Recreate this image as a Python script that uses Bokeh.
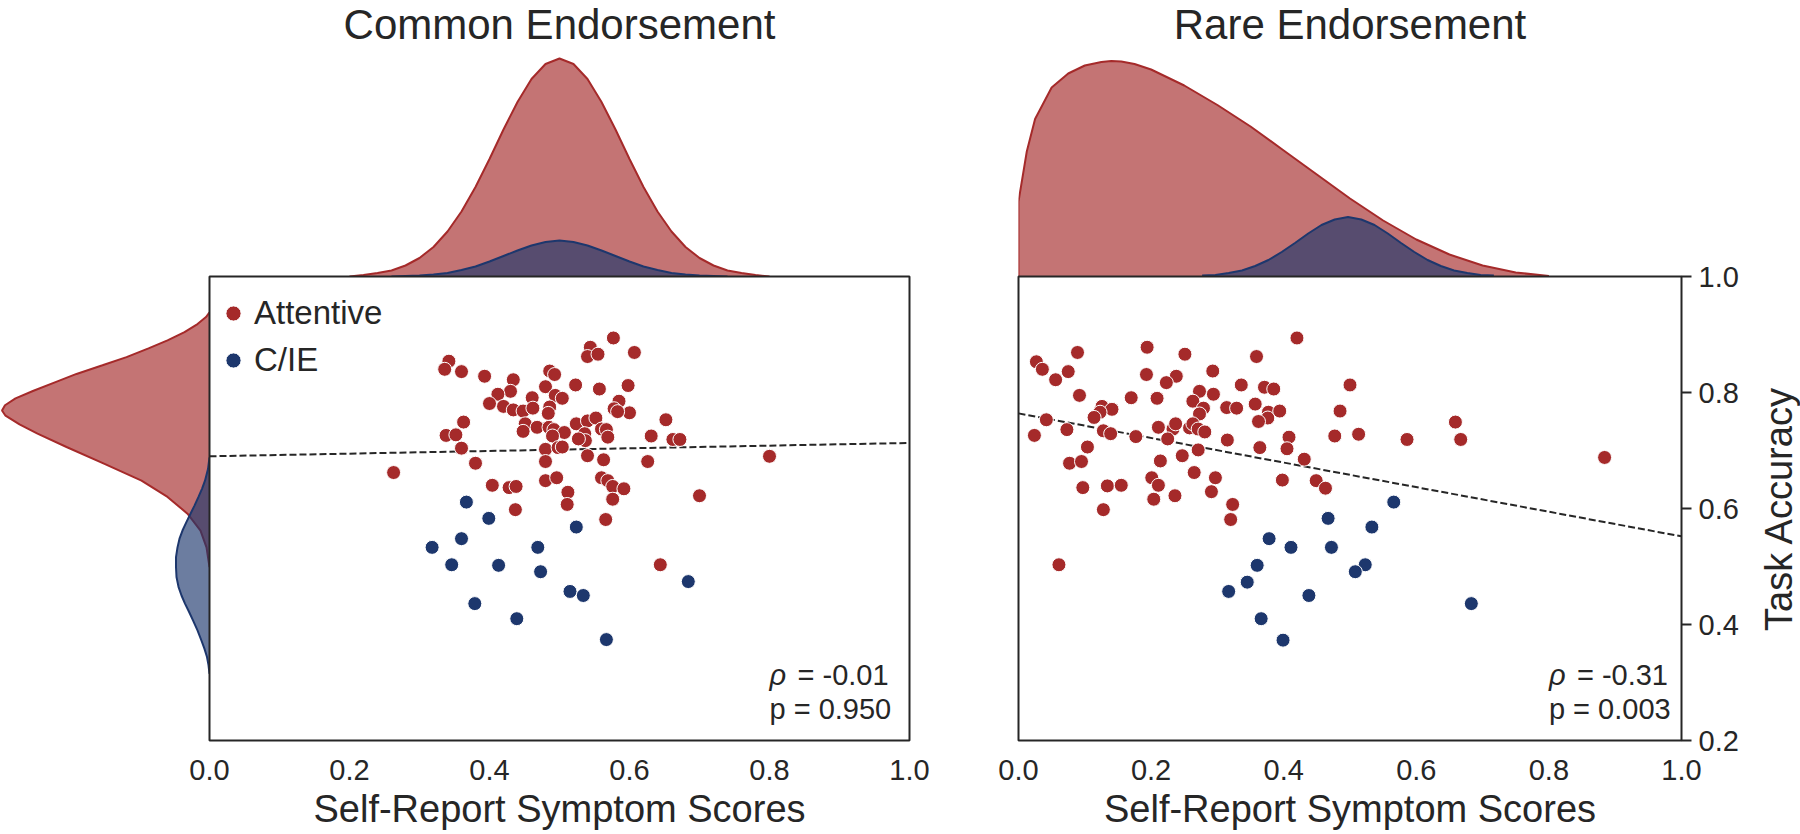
import math
from bokeh.plotting import figure
from bokeh.layouts import row, column
from bokeh.models import Range1d, FixedTicker, PrintfTickFormatter, Label, Legend, LegendItem
from bokeh.embed import file_html
from bokeh.resources import INLINE

FONT = "Liberation Sans"
INK = "#262626"
RED = "#A52A2A"
BLUE = "#1D376D"
FILL_ALPHA = 0.65

# ---------------- data ----------------
common_att_score = [0.577, 0.544, 0.540, 0.555, 0.607, 0.342, 0.336, 0.360, 0.393, 0.434,
                    0.486, 0.493, 0.480, 0.523, 0.557, 0.598, 0.430, 0.412, 0.461, 0.494,
                    0.504, 0.585, 0.400, 0.420, 0.434, 0.448, 0.462, 0.486, 0.484, 0.578,
                    0.600, 0.583, 0.363, 0.451, 0.448, 0.468, 0.485, 0.492, 0.507, 0.490,
                    0.524, 0.540, 0.552, 0.560, 0.567, 0.569, 0.536, 0.537, 0.527, 0.652,
                    0.631, 0.662, 0.672, 0.338, 0.352, 0.360, 0.480, 0.498, 0.504, 0.540,
                    0.563, 0.480, 0.626, 0.380, 0.263, 0.700, 0.404, 0.428, 0.438, 0.480,
                    0.496, 0.560, 0.569, 0.576, 0.592, 0.512, 0.511, 0.576, 0.437, 0.566,
                    0.800, 0.644]
common_att_acc = [0.894, 0.878, 0.862, 0.866, 0.869, 0.854, 0.840, 0.836, 0.828, 0.822,
                  0.837, 0.831, 0.810, 0.813, 0.806, 0.812, 0.802, 0.797, 0.791, 0.795,
                  0.790, 0.785, 0.781, 0.776, 0.770, 0.768, 0.773, 0.775, 0.764, 0.772,
                  0.765, 0.767, 0.749, 0.746, 0.733, 0.740, 0.740, 0.736, 0.731, 0.725,
                  0.746, 0.751, 0.756, 0.737, 0.736, 0.723, 0.729, 0.717, 0.720, 0.753,
                  0.725, 0.719, 0.719, 0.726, 0.727, 0.704, 0.702, 0.705, 0.706, 0.691,
                  0.684, 0.681, 0.681, 0.678, 0.662, 0.622, 0.640, 0.636, 0.638, 0.648,
                  0.653, 0.653, 0.648, 0.638, 0.634, 0.628, 0.607, 0.616, 0.598, 0.581,
                  0.690, 0.503]
common_cie_score = [0.367, 0.399, 0.524, 0.360, 0.318, 0.469, 0.346, 0.413, 0.473, 0.684,
                    0.515, 0.534, 0.379, 0.439, 0.567]
common_cie_acc = [0.611, 0.583, 0.568, 0.548, 0.533, 0.533, 0.503, 0.502, 0.491, 0.474,
                  0.457, 0.450, 0.436, 0.410, 0.374]

rare_att_score = [0.420, 0.089, 0.194, 0.251, 0.359, 0.027, 0.036, 0.075, 0.056, 0.193,
                  0.238, 0.223, 0.293, 0.336, 0.371, 0.385, 0.500, 0.092, 0.170, 0.209,
                  0.273, 0.294, 0.263, 0.126, 0.141, 0.123, 0.114, 0.279, 0.273, 0.314,
                  0.329, 0.357, 0.377, 0.376, 0.394, 0.362, 0.485, 0.042, 0.024, 0.073,
                  0.128, 0.139, 0.177, 0.211, 0.233, 0.237, 0.225, 0.258, 0.263, 0.271,
                  0.281, 0.271, 0.315, 0.408, 0.477, 0.513, 0.586, 0.659, 0.667, 0.104,
                  0.364, 0.405, 0.247, 0.431, 0.077, 0.095, 0.214, 0.265, 0.201, 0.211,
                  0.297, 0.398, 0.449, 0.463, 0.097, 0.134, 0.155, 0.204, 0.236, 0.291,
                  0.128, 0.323, 0.320, 0.884, 0.061]
rare_att_acc = [0.894, 0.869, 0.878, 0.866, 0.862, 0.853, 0.840, 0.836, 0.822, 0.831,
                0.828, 0.817, 0.837, 0.813, 0.809, 0.806, 0.813, 0.795, 0.791, 0.790,
                0.802, 0.797, 0.785, 0.776, 0.771, 0.766, 0.757, 0.773, 0.763, 0.774,
                0.773, 0.780, 0.766, 0.756, 0.768, 0.750, 0.768, 0.753, 0.726, 0.736,
                0.734, 0.729, 0.724, 0.740, 0.737, 0.746, 0.720, 0.739, 0.746, 0.737,
                0.732, 0.701, 0.718, 0.723, 0.725, 0.728, 0.719, 0.749, 0.719, 0.706,
                0.705, 0.703, 0.691, 0.685, 0.678, 0.681, 0.682, 0.662, 0.653, 0.640,
                0.653, 0.649, 0.648, 0.635, 0.636, 0.639, 0.640, 0.616, 0.622, 0.629,
                0.598, 0.607, 0.581, 0.688, 0.503]
rare_cie_score = [0.566, 0.467, 0.533, 0.378, 0.411, 0.472, 0.523, 0.360, 0.508, 0.683,
                  0.345, 0.317, 0.438, 0.366, 0.399]
rare_cie_acc = [0.611, 0.583, 0.568, 0.548, 0.533, 0.533, 0.503, 0.502, 0.491, 0.436,
                0.473, 0.457, 0.450, 0.410, 0.373]

fit_x = [0.0, 1.0]
common_fit = [0.690, 0.713]
rare_fit = [0.764, 0.552]

common_rho, common_p = "-0.01", "0.950"
rare_rho, rare_p = "-0.31", "0.003"

# marginal densities (as drawn)
common_att_grid = [0.20, 0.22, 0.24, 0.26, 0.28, 0.30, 0.32, 0.34, 0.36, 0.38, 0.40,
                   0.42, 0.44, 0.46, 0.48, 0.50, 0.52, 0.54, 0.56, 0.58, 0.60, 0.62,
                   0.64, 0.66, 0.68, 0.70, 0.72, 0.74, 0.76, 0.78, 0.80]
common_att_dens = [0.00, 0.03, 0.07, 0.12, 0.22, 0.37, 0.59, 0.90, 1.30, 1.79, 2.35,
                   2.94, 3.49, 3.95, 4.25, 4.36, 4.25, 3.95, 3.49, 2.94, 2.35, 1.79,
                   1.30, 0.90, 0.59, 0.37, 0.22, 0.12, 0.07, 0.03, 0.00]
common_cie_grid = [0.26, 0.28, 0.30, 0.32, 0.34, 0.36, 0.38, 0.40, 0.42, 0.44, 0.46,
                   0.48, 0.50, 0.52, 0.54, 0.56, 0.58, 0.60, 0.62, 0.64, 0.66, 0.68,
                   0.70, 0.72, 0.74]
common_cie_dens = [0.00, 0.01, 0.02, 0.04, 0.07, 0.13, 0.20, 0.30, 0.41, 0.52, 0.62,
                   0.69, 0.72, 0.69, 0.62, 0.52, 0.41, 0.30, 0.20, 0.13, 0.07, 0.04,
                   0.02, 0.01, 0.00]
rare_att_grid = [0.0, 0.0, 0.0125, 0.025, 0.05, 0.075, 0.10, 0.125, 0.14, 0.155, 0.175,
                 0.20, 0.25, 0.30, 0.35, 0.40, 0.45, 0.50, 0.55, 0.60, 0.65, 0.70,
                 0.75, 0.80]
rare_att_dens = [0.0, 1.50, 2.50, 3.15, 3.78, 4.06, 4.22, 4.29, 4.31, 4.30, 4.25,
                 4.14, 3.82, 3.43, 3.00, 2.52, 2.04, 1.56, 1.12, 0.74, 0.44, 0.22,
                 0.08, 0.01]
rare_cie_grid = [0.277, 0.297, 0.317, 0.337, 0.357, 0.377, 0.397, 0.417, 0.437, 0.457,
                 0.477, 0.497, 0.517, 0.537, 0.557, 0.577, 0.597, 0.617, 0.637, 0.657,
                 0.677, 0.697, 0.717]
rare_cie_dens = [0.02, 0.03, 0.07, 0.12, 0.21, 0.33, 0.49, 0.67, 0.86, 1.03, 1.14,
                 1.19, 1.14, 1.03, 0.86, 0.67, 0.49, 0.33, 0.21, 0.12, 0.07, 0.03,
                 0.02]

acc_att_grid = [0.499, 0.533, 0.562, 0.591, 0.620, 0.648, 0.677, 0.706, 0.729, 0.745,
                0.760, 0.769, 0.778, 0.790, 0.803, 0.818, 0.832, 0.847, 0.861, 0.876,
                0.890, 0.904, 0.918, 0.930, 0.938]
acc_att_dens = [0.00, 0.06, 0.18, 0.44, 0.84, 1.36, 2.10, 2.86, 3.44, 3.80,
                4.08, 4.15, 4.09, 3.88, 3.52, 3.08, 2.66, 2.14, 1.66, 1.22,
                0.84, 0.50, 0.24, 0.07, 0.00]
acc_cie_grid = [0.315, 0.330, 0.344, 0.358, 0.372, 0.390, 0.407, 0.422, 0.436, 0.450,
                0.465, 0.482, 0.499, 0.516, 0.533, 0.548, 0.562, 0.577, 0.591, 0.605,
                0.620, 0.634, 0.648, 0.668, 0.688]
acc_cie_dens = [0.00, 0.02, 0.05, 0.10, 0.16, 0.24, 0.33, 0.41, 0.49, 0.56,
                0.62, 0.66, 0.67, 0.67, 0.64, 0.60, 0.54, 0.46, 0.38, 0.30,
                0.22, 0.15, 0.09, 0.03, 0.00]

TICKS = [0.0, 0.2, 0.4, 0.6, 0.8, 1.0]
YTICKS = [0.2, 0.4, 0.6, 0.8, 1.0]

# ---------------- geometry (page pixels) ----------------
SIDE_W = 209
FW_L, FW_R = 700, 663
GAP_L, GAP_R = 40, 69
AX_R = 77        # ticks + tick labels of the accuracy axis
YLAB_W = 42      # strip holding the accuracy axis title
TOP_H = 276
FH = 464
B_TOP = 20
B_BOT = 94
OVL = 30
DENS_PX = 50.0


def clean(p):
    p.outline_line_color = None
    p.background_fill_alpha = 0
    p.border_fill_alpha = 0
    p.xgrid.visible = False
    p.ygrid.visible = False


def top_marginal(title, fw, left, right, curves):
    p = figure(frame_width=fw, frame_height=TOP_H, min_border_left=left, min_border_right=right,
               min_border_top=0, min_border_bottom=0, x_range=Range1d(0, 1),
               y_range=Range1d(0, TOP_H / DENS_PX), x_axis_location=None, y_axis_location=None,
               toolbar_location=None, output_backend="svg")
    clean(p)
    for gx, gd, col in curves:
        p.varea(x=gx, y1=0, y2=gd, fill_color=col, fill_alpha=FILL_ALPHA)
        p.line(gx, gd, line_color=col, line_width=2)
    p.add_layout(Label(x=0.5, y=TOP_H - 24, x_units="data", y_units="screen", text=title,
                       text_align="center", text_baseline="middle", text_font=FONT,
                       text_font_size="42px", text_color=INK))
    return p


tl = top_marginal("Common Endorsement", FW_L, SIDE_W, GAP_L,
                  [(common_att_grid, common_att_dens, RED), (common_cie_grid, common_cie_dens, BLUE)])
tr = top_marginal("Rare Endorsement", FW_R, GAP_R, AX_R + YLAB_W,
                  [(rare_att_grid, rare_att_dens, RED), (rare_cie_grid, rare_cie_dens, BLUE)])

# side marginal (task accuracy)
side = figure(frame_width=SIDE_W, frame_height=FH, min_border_left=0, min_border_right=0,
              min_border_top=B_TOP, min_border_bottom=B_BOT, x_range=Range1d(SIDE_W / DENS_PX, 0),
              y_range=Range1d(0.2, 1.0), x_axis_location=None, y_axis_location=None,
              toolbar_location=None, output_backend="svg")
clean(side)
for gy, gd, col in [(acc_att_grid, acc_att_dens, RED), (acc_cie_grid, acc_cie_dens, BLUE)]:
    side.harea(y=gy, x1=0, x2=gd, fill_color=col, fill_alpha=FILL_ALPHA)
    side.line(gd, gy, line_color=col, line_width=2)


def scatter_panel(fw, left, right, ax_right, att_x, att_y, cie_x, cie_y, fit, rho, pval, legend):
    p = figure(frame_width=fw, frame_height=FH, min_border_left=left, min_border_right=right,
               min_border_top=B_TOP, min_border_bottom=B_BOT, x_range=Range1d(0, 1),
               y_range=Range1d(0.2, 1.0), x_axis_location="below",
               y_axis_location="right" if ax_right else None,
               toolbar_location=None, output_backend="svg")
    p.background_fill_alpha = 0
    p.border_fill_alpha = 0
    p.xgrid.visible = False
    p.ygrid.visible = False
    p.outline_line_color = INK
    p.outline_line_width = 2
    p.outline_line_alpha = 1

    xa = p.xaxis[0]
    xa.ticker = FixedTicker(ticks=TICKS)
    xa.formatter = PrintfTickFormatter(format="%.1f")
    xa.axis_line_color = None
    xa.major_tick_line_color = None
    xa.minor_tick_line_color = None
    xa.major_label_text_font = FONT
    xa.major_label_text_font_size = "29px"
    xa.major_label_text_color = INK
    xa.major_label_standoff = 13
    xa.axis_label = "Self-Report Symptom Scores"
    xa.axis_label_text_font = FONT
    xa.axis_label_text_font_size = "38px"
    xa.axis_label_text_font_style = "normal"
    xa.axis_label_text_color = INK
    xa.axis_label_standoff = 5

    if ax_right:
        ya = p.yaxis[0]
        ya.ticker = FixedTicker(ticks=YTICKS)
        ya.formatter = PrintfTickFormatter(format="%.1f")
        ya.axis_line_color = None
        ya.major_tick_in = 0
        ya.major_tick_out = 10
        ya.major_tick_line_width = 2
        ya.major_tick_line_color = INK
        ya.minor_tick_line_color = None
        ya.major_label_text_font = FONT
        ya.major_label_text_font_size = "29px"
        ya.major_label_text_color = INK
        ya.major_label_standoff = 7

    p.line(fit_x, fit, line_color=INK, line_width=2, line_dash="7 3")
    ra = p.scatter(att_x, att_y, size=14, fill_color=RED, line_color="white", line_width=1)
    rc = p.scatter(cie_x, cie_y, size=14, fill_color=BLUE, line_color="white", line_width=1)

    for txt, yy, xo, style in [("\u03c1", 0.3128, 0, "italic"), ("= " + rho, 0.3128, 28, "normal"),
                               ("p = " + pval, 0.2541, 0, "normal")]:
        p.add_layout(Label(x=0.8, y=yy, x_offset=xo, text=txt, text_font=FONT, text_font_size="29px",
                           text_font_style=style, text_color=INK, text_align="left",
                           text_baseline="middle"))
    if legend:
        lg = Legend(items=[LegendItem(label="Attentive", renderers=[ra]),
                           LegendItem(label="C/IE", renderers=[rc])],
                    location=(5, 361), margin=0, padding=0, spacing=9,
                    glyph_width=38, glyph_height=38, label_height=38, label_standoff=2,
                    label_text_font=FONT, label_text_font_size="33px", label_text_color=INK,
                    border_line_color=None, background_fill_alpha=0)
        p.add_layout(lg)
    return p


lf = scatter_panel(FW_L, OVL, GAP_L, False, common_att_score, common_att_acc,
                   common_cie_score, common_cie_acc, common_fit, common_rho, common_p, True)
lf.margin = (0, 0, 0, -OVL)
rf = scatter_panel(FW_R, GAP_R, AX_R, True, rare_att_score, rare_att_acc,
                   rare_cie_score, rare_cie_acc, rare_fit, rare_rho, rare_p, False)

# strip with the y-axis title, reading bottom to top, centred on the accuracy axis
ylab = figure(frame_width=YLAB_W, frame_height=FH, min_border_left=0, min_border_right=0,
              min_border_top=B_TOP, min_border_bottom=B_BOT, x_range=Range1d(0, 1),
              y_range=Range1d(0.2, 1.0), x_axis_location=None, y_axis_location=None,
              toolbar_location=None, output_backend="svg")
clean(ylab)
ylab.add_layout(Label(x=20, y=0.6, x_units="screen", y_units="data", text="Task Accuracy",
                      angle=math.pi / 2, text_align="center", text_baseline="middle",
                      text_font=FONT, text_font_size="38px", text_color=INK))

top_row = row(tl, tr)
bottom_row = row(side, lf, rf, ylab, margin=(-B_TOP, 0, 0, 0))
layout = column(top_row, bottom_row)

open("out.html", "w").write(file_html(layout, INLINE))
